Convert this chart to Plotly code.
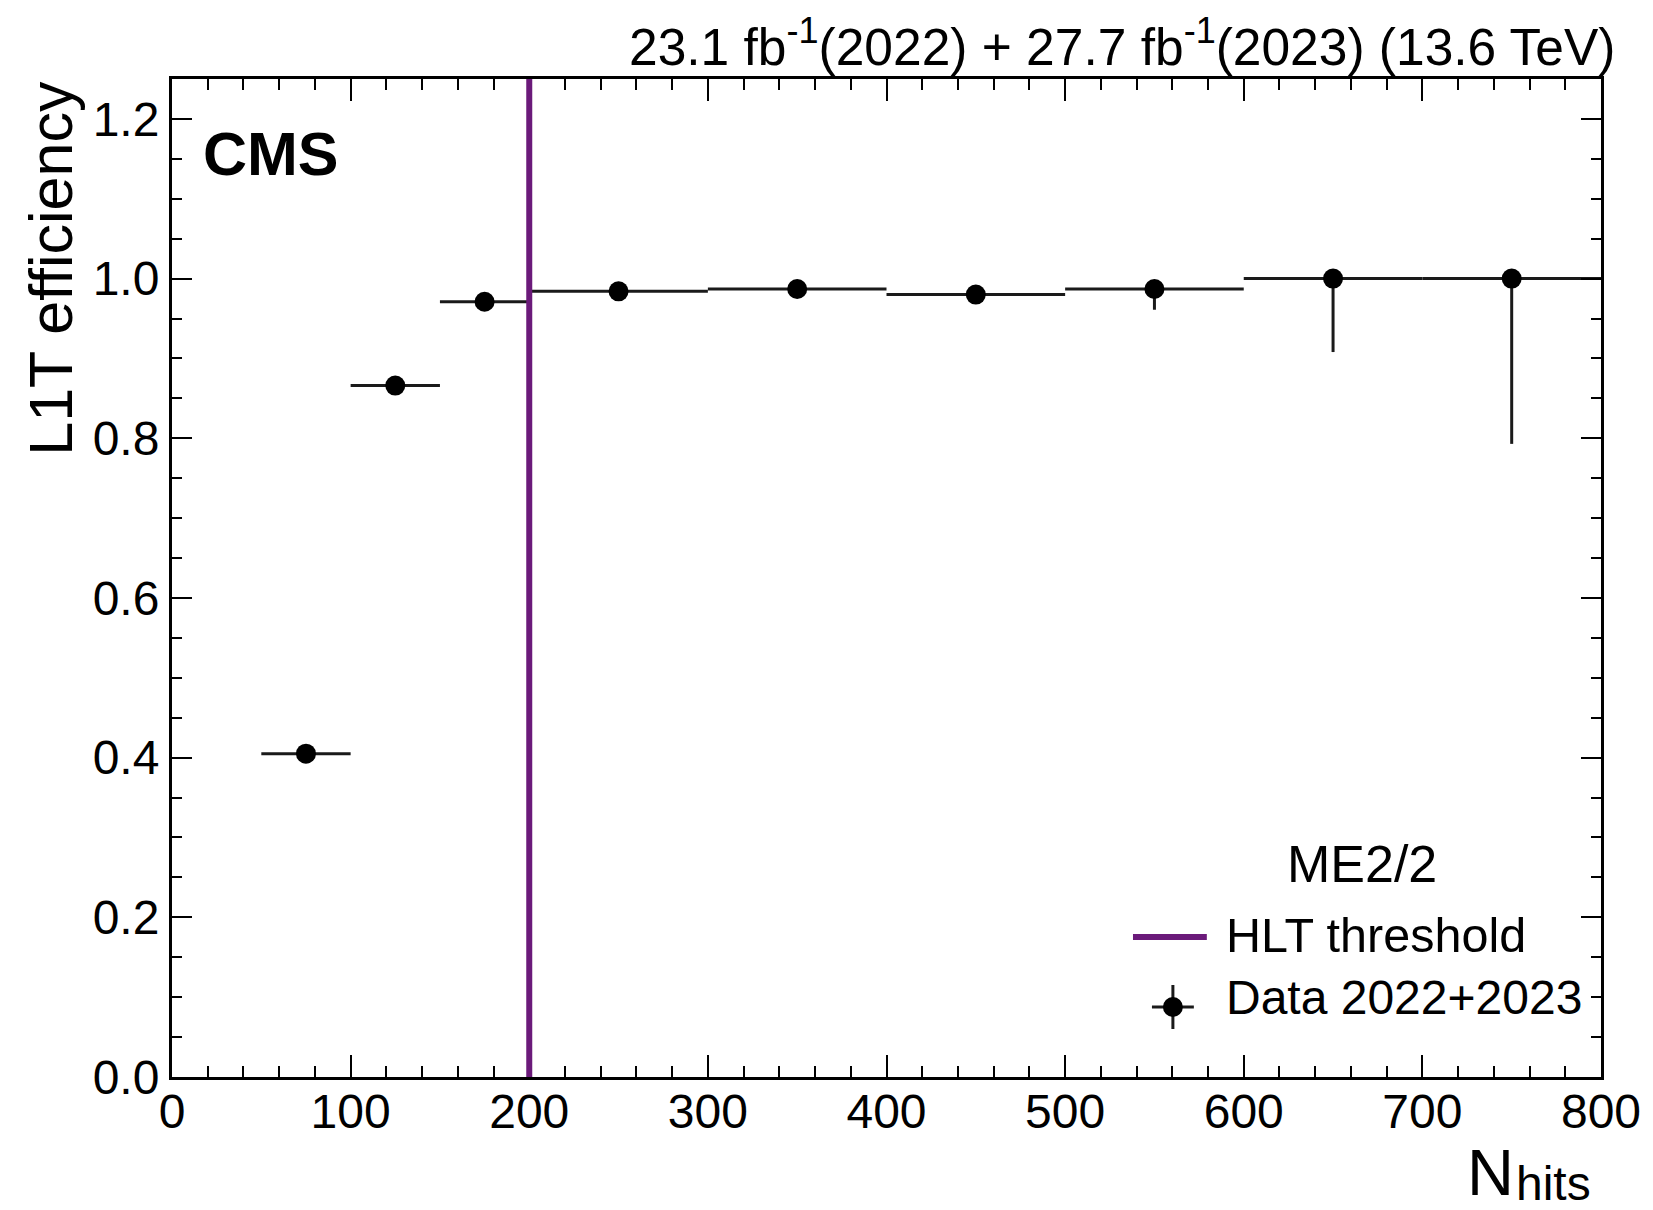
import plotly.graph_objects as go

# L1T efficiency vs number of hits (ME2/2), binned
bin_lo = [50, 100, 150, 200, 300, 400, 500, 600, 700]
bin_hi = [100, 150, 200, 300, 400, 500, 600, 700, 800]
efficiency = [0.405, 0.866, 0.971, 0.984, 0.987, 0.980, 0.987, 1.000, 1.000]
err_up = [0.004, 0.004, 0.003, 0.002, 0.002, 0.002, 0.004, 0.000, 0.000]
err_down = [0.005, 0.005, 0.004, 0.003, 0.003, 0.003, 0.026, 0.092, 0.207]

hlt_threshold = 200

x_ticks = [0, 100, 200, 300, 400, 500, 600, 700, 800]
y_ticks = [0.0, 0.2, 0.4, 0.6, 0.8, 1.0, 1.2]

W, H = 1653, 1210
ML, MR, MT, MB = 172, 49, 79, 133
PW, PH = W - ML - MR, H - MT - MB

FONT = "Liberation Sans, Arial, Helvetica, sans-serif"
PURPLE = "#6b1a7a"
INK = "#1a1a1a"


def px(xp):
    return (xp - ML) / PW


def py(yp):
    return (H - MB - yp) / PH


bin_center = [(a + b) / 2 for a, b in zip(bin_lo, bin_hi)]
bin_half = [(b - a) / 2 for a, b in zip(bin_lo, bin_hi)]

fig = go.Figure()
fig.add_trace(go.Scatter(
    x=bin_center, y=efficiency, mode="markers",
    marker=dict(color="black", size=20),
    error_x=dict(type="data", array=bin_half, symmetric=True,
                 color=INK, thickness=3, width=0),
    error_y=dict(type="data", array=err_up, arrayminus=err_down,
                 symmetric=False, color=INK, thickness=3, width=0),
    showlegend=False,
))

shapes = [
    # HLT threshold line
    dict(type="line", xref="x", yref="paper", x0=hlt_threshold, x1=hlt_threshold,
         y0=0, y1=1, line=dict(color=PURPLE, width=6), layer="above"),
    # legend: threshold line sample
    dict(type="line", xref="paper", yref="paper", x0=px(1135), x1=px(1209),
         y0=py(937), y1=py(937), line=dict(color=PURPLE, width=6)),
    # legend: data marker sample
    dict(type="line", xref="paper", yref="paper", x0=px(1175), x1=px(1175),
         y0=py(985), y1=py(1029), line=dict(color=INK, width=3)),
    dict(type="line", xref="paper", yref="paper", x0=px(1154), x1=px(1196),
         y0=py(1007), y1=py(1007), line=dict(color=INK, width=3)),
    dict(type="circle", xref="paper", yref="paper", x0=px(1165), x1=px(1185),
         y0=py(1017), y1=py(997), fillcolor="black", line=dict(color="black", width=0)),
]

annotations = [
    dict(text="L1T efficiency", textangle=-90, xref="paper", yref="paper",
         x=px(50), y=1.0, xanchor="center", yanchor="top", showarrow=False,
         font=dict(family=FONT, size=61, color="black")),
    # x-axis title: N with subscript "hits"
    dict(text="N", xref="paper", yref="paper",
         x=px(1519), y=py(1172), xanchor="right", yanchor="middle", showarrow=False,
         font=dict(family=FONT, size=65, color="black")),
    dict(text="hits", xref="paper", yref="paper",
         x=px(1517), y=py(1183), xanchor="left", yanchor="middle", showarrow=False,
         font=dict(family=FONT, size=48, color="black")),
    dict(text="23.1 fb<sup>-1</sup>(2022) + 27.7 fb<sup>-1</sup>(2023) (13.6 TeV)",
         xref="paper", yref="paper", x=px(1621), y=py(78), xanchor="right",
         yanchor="bottom", showarrow=False,
         font=dict(family=FONT, size=51.5, color="black")),
    dict(text="<b>CMS</b>", xref="paper", yref="paper", x=px(201), y=py(154),
         xanchor="left", yanchor="middle", showarrow=False,
         font=dict(family=FONT, size=61, color="black")),
    dict(text="ME2/2", xref="paper", yref="paper", x=px(1364), y=py(864),
         xanchor="center", yanchor="middle", showarrow=False,
         font=dict(family=FONT, size=52, color="black")),
    dict(text="HLT threshold", xref="paper", yref="paper", x=px(1226), y=py(935),
         xanchor="left", yanchor="middle", showarrow=False,
         font=dict(family=FONT, size=48.5, color="black")),
    dict(text="Data 2022+2023", xref="paper", yref="paper", x=px(1226), y=py(997),
         xanchor="left", yanchor="middle", showarrow=False,
         font=dict(family=FONT, size=48, color="black")),
]

axis_common = dict(
    showgrid=False, zeroline=False, showline=True, linecolor="black", linewidth=3,
    mirror="allticks", ticks="inside", tickcolor="black", tickwidth=2,
    tickfont=dict(family=FONT, size=48, color="black"),
)

fig.update_layout(
    width=W, height=H,
    margin=dict(l=ML, r=MR, t=MT, b=MB, pad=0),
    paper_bgcolor="white", plot_bgcolor="white",
    shapes=shapes, annotations=annotations,
    xaxis=dict(range=[0, 800], tickvals=x_ticks, ticktext=[str(v) for v in x_ticks],
               ticklen=22, ticklabelstandoff=-10,
               minor=dict(ticks="inside", dtick=20, ticklen=11, tickwidth=2,
                          tickcolor="black"),
               **axis_common),
    yaxis=dict(range=[0, 1.25], tickvals=y_ticks,
               ticktext=[f"{v:.1f}" for v in y_ticks], ticklen=20,
               minor=dict(ticks="inside", dtick=0.05, ticklen=10, tickwidth=2,
                          tickcolor="black"),
               **axis_common),
)

fig.write_html("out.html")
